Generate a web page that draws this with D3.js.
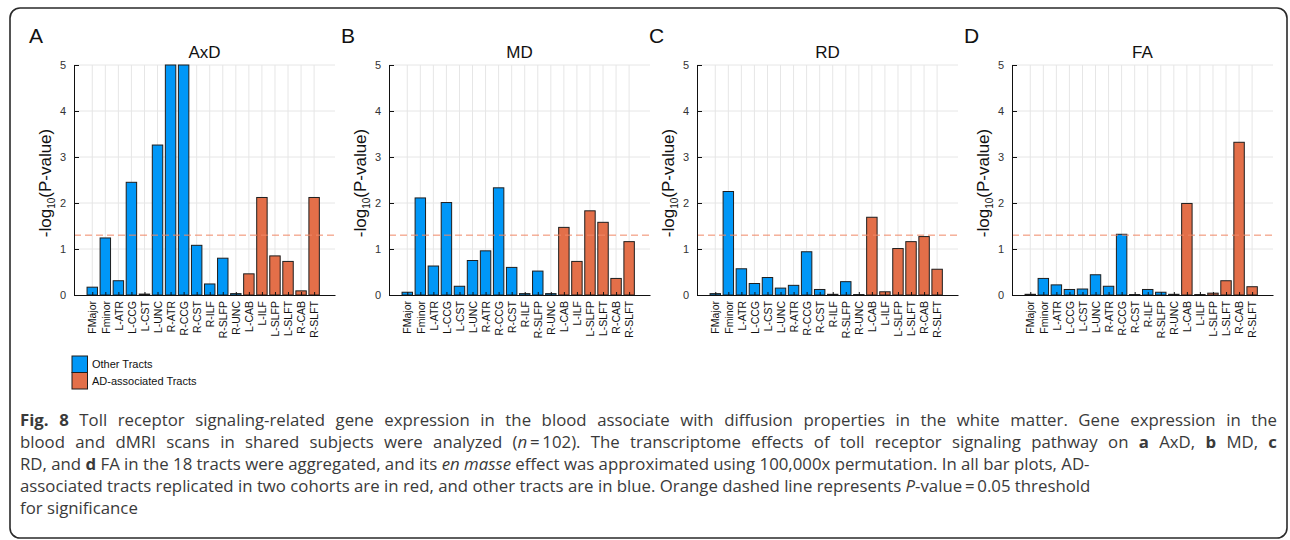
<!DOCTYPE html>
<html>
<head>
<meta charset="utf-8">
<script src="https://cdn.jsdelivr.net/npm/d3@7"></script>
<style>
  body { margin: 0; background: #fff; }
  svg { display: block; font-family: "Liberation Sans", Arial, sans-serif; }
</style>
</head>
<body>
<div id="fig"></div>
<script>
"use strict"

// tracts on the x axis, same order in every panel
const tracts = ["FMajor", "Fminor", "L-ATR", "L-CCG", "L-CST", "L-UNC", "R-ATR", "R-CCG", "R-CST",
  "R-ILF", "R-SLFP", "R-UNC", "L-CAB", "L-ILF", "L-SLFP", "L-SLFT", "R-CAB", "R-SLFT"];
// tracts drawn in orange
const adTracts = ["L-CAB", "L-ILF", "L-SLFP", "L-SLFT", "R-CAB", "R-SLFT"];

// -log10(P-value) per tract
const axd = [0.17, 1.24, 0.31, 2.45, 0.02, 3.26, 5, 5, 1.08, 0.24, 0.80, 0.03, 0.46, 2.12, 0.85, 0.73, 0.09, 2.12];
const md  = [0.06, 2.11, 0.63, 2.01, 0.19, 0.75, 0.96, 2.33, 0.60, 0.03, 0.52, 0.03, 1.47, 0.73, 1.83, 1.58, 0.36, 1.16];
const rd  = [0.03, 2.25, 0.57, 0.25, 0.38, 0.15, 0.21, 0.94, 0.12, 0.015, 0.29, 0.01, 1.69, 0.07, 1.01, 1.16, 1.27, 0.56];
const fa  = [0.015, 0.36, 0.22, 0.12, 0.13, 0.44, 0.19, 1.32, 0.01, 0.12, 0.06, 0.015, 1.99, 0.01, 0.04, 0.31, 3.32, 0.18];

const panelLetters = ["A", "B", "C", "D"];
const panelTitles = ["AxD", "MD", "RD", "FA"];
const panelValues = [axd, md, rd, fa];
const yTicks = [0, 1, 2, 3, 4, 5];
const threshold = -Math.log10(0.05);

const legendLabels = ["Other Tracts", "AD-associated Tracts"];

const captionLines = [
  [["b", "Fig. 8"], ["n", " Toll receptor signaling-related gene expression in the blood associate with diffusion properties in the white matter. Gene expression in the"]],
  [["n", "blood and dMRI scans in shared subjects were analyzed ("], ["i", "n"], ["n", "\u2009=\u2009102). The transcriptome effects of toll receptor signaling pathway on "], ["b", "a"], ["n", " AxD, "], ["b", "b"], ["n", " MD, "], ["b", "c"]],
  [["n", "RD, and "], ["b", "d"], ["n", " FA in the 18 tracts were aggregated, and its "], ["i", "en masse"], ["n", " effect was approximated using 100,000x permutation. In all bar plots, AD-"]],
  [["n", "associated tracts replicated in two cohorts are in red, and other tracts are in blue. Orange dashed line represents "], ["i", "P"], ["n", "-value\u2009=\u20090.05 threshold"]],
  [["n", "for significance"]]
];

// colours
const blue = "#0097f7", orange = "#e36f49";

// layout
const W = 1290, H = 540;
const panelLeft = [74, 389, 697, 1012];
const plotW = 261, plotTop = 65, plotH = 230;

const svg = d3.select("#fig").append("svg")
  .attr("width", W)
  .attr("height", H);

// rounded frame round the figure
svg.append("rect")
  .attr("x", 10).attr("y", 8)
  .attr("width", 1277).attr("height", 530)
  .attr("rx", 10)
  .attr("fill", "none")
  .attr("stroke", "#2a2a2a")
  .attr("stroke-width", 1.6);

const x = d3.scaleLinear().domain([-0.4, 19.6]).range([0, plotW]);
const y = d3.scaleLinear().domain([0, 5]).range([plotH, 0]);
const bw = (x(1) - x(0)) * 0.8;
const idx = d3.range(1, tracts.length + 1);

panelValues.forEach(function(vals, p) {
  const g = svg.append("g")
    .attr("transform", "translate(" + panelLeft[p] + "," + plotTop + ")");

  // grid
  g.append("g").selectAll("line.h")
    .data(yTicks.slice(1))
    .enter().append("line")
      .attr("x1", 0).attr("x2", plotW)
      .attr("y1", d => y(d)).attr("y2", d => y(d))
      .attr("stroke", "#e6e6e6");
  g.append("g").selectAll("line.v")
    .data(idx)
    .enter().append("line")
      .attr("x1", d => x(d)).attr("x2", d => x(d))
      .attr("y1", 0).attr("y2", plotH)
      .attr("stroke", "#e6e6e6");

  // bars
  g.append("g").selectAll("rect")
    .data(vals)
    .enter().append("rect")
      .attr("x", (d, i) => x(i + 1) - bw / 2)
      .attr("y", d => y(d))
      .attr("width", bw)
      .attr("height", d => y(0) - y(d))
      .attr("fill", (d, i) => adTracts.includes(tracts[i]) ? orange : blue)
      .attr("stroke", "#1e1e1e")
      .attr("stroke-width", 1);

  // significance line
  g.append("line")
    .attr("x1", 0).attr("x2", plotW)
    .attr("y1", y(threshold)).attr("y2", y(threshold))
    .attr("stroke", "#f08866")
    .attr("stroke-width", 1)
    .attr("stroke-dasharray", "7,4");

  // axes
  const ya = g.append("g")
    .call(d3.axisLeft(y).tickValues(yTicks).tickFormat(d3.format("d"))
      .tickSize(-5).tickSizeOuter(0).tickPadding(8));
  ya.selectAll("text").attr("font-size", 11).attr("fill", "#333").attr("font-family", null);

  const xa = g.append("g")
    .attr("transform", "translate(0," + plotH + ")")
    .call(d3.axisBottom(x).tickValues(idx).tickFormat(d => tracts[d - 1]).tickSize(-3).tickSizeOuter(0));
  xa.selectAll("text")
    .attr("font-size", 10.5)
    .attr("font-family", null)
    .attr("fill", "#111")
    .attr("y", 0)
    .attr("x", -6)
    .attr("dy", "0.35em")
    .attr("transform", "rotate(-90)")
    .style("text-anchor", "end");
  g.selectAll(".domain, .tick line").attr("stroke", "#111");

  // y label
  const yl = g.append("text")
    .attr("transform", "translate(-23," + (plotH / 2 + 3) + ") rotate(-90)")
    .attr("text-anchor", "middle")
    .attr("font-size", 17)
    .attr("fill", "#111");
  yl.append("tspan").text("-log");
  yl.append("tspan").attr("font-size", 10).attr("dy", 4).text("10");
  yl.append("tspan").attr("dy", -4).text("(P-value)");

  // title and panel letter
  g.append("text")
    .attr("x", plotW / 2).attr("y", -7)
    .attr("text-anchor", "middle")
    .attr("font-size", 17)
    .attr("fill", "#111")
    .text(panelTitles[p]);
  g.append("text")
    .attr("x", p === 0 ? -45 : -48).attr("y", -22)
    .attr("font-size", 21)
    .attr("fill", "#111")
    .text(panelLetters[p]);
});

// legend
const lg = svg.append("g").attr("transform", "translate(72,356)");
legendLabels.forEach(function(lab, i) {
  lg.append("rect")
    .attr("x", 0).attr("y", i * 16.5)
    .attr("width", 15.5).attr("height", 16.5)
    .attr("fill", i === 0 ? blue : orange)
    .attr("stroke", "#1e1e1e");
  lg.append("text")
    .attr("x", 20).attr("y", i * 16.5 + 12)
    .attr("font-size", 11)
    .attr("fill", "#111")
    .text(lab);
});

// caption
const capX = 20, capRight = 1277, capY = 426, capStep = 22;
captionLines.forEach(function(parts, li) {
  const t = svg.append("text")
    .attr("x", capX).attr("y", capY + li * capStep)
    .attr("font-family", "'Open Sans', sans-serif")
    .attr("font-size", 16.8)
    .attr("fill", "#3a3a3a");
  parts.forEach(function(pt) {
    t.append("tspan")
      .attr("font-weight", pt[0] === "b" ? "bold" : null)
      .attr("font-style", pt[0] === "i" ? "italic" : null)
      .text(pt[1]);
  });
  // first two lines are justified to the frame
  if (li < 2) {
    const natural = t.node().getComputedTextLength();
    const spaces = parts.map(pt => pt[1]).join("").split(" ").length - 1;
    t.attr("word-spacing", Math.max(0, (capRight - capX - natural) / spaces));
  }
});
</script>
</body>
</html>
